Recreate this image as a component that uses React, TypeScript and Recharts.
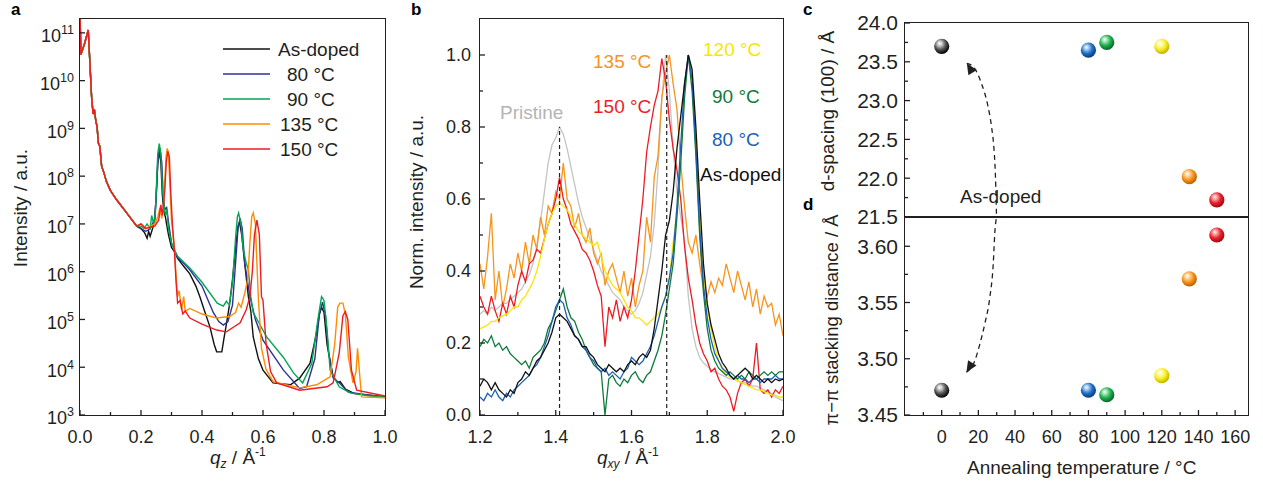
import React from 'react';
import { ComposedChart, Line, Scatter, XAxis, YAxis, ReferenceLine } from 'recharts';

const FONT = '"Liberation Sans", Arial, Helvetica, sans-serif';
const INK = '#231f20';

type Pt = [number, number];
type Side = 'bottom' | 'top' | 'left' | 'right';

// ---------- (a) intensity vs q_z, log scale ----------
const A_HEAD: Pt[] = [
  [0, 2.5e11], [0.003, 3.5e10], [0.015, 6e10], [0.027, 1.15e11], [0.033, 2e10], [0.038, 4.6e9],
  [0.043, 2e9], [0.047, 2.5e9], [0.052, 1.4e9], [0.056, 1.1e9], [0.06, 5e8], [0.065, 4.2e8],
  [0.071, 1.6e8], [0.078, 1.2e8], [0.087, 7.6e7], [0.1, 5e7], [0.12, 3.2e7], [0.153, 1.7e7], [0.186, 9e6],
];
const A_ASDOPED: Pt[] = [
  [0.2, 8e6], [0.212, 6.5e6], [0.22, 5e6], [0.225, 7e6], [0.23, 5.5e6], [0.238, 8e6], [0.245, 1.2e7],
  [0.25, 4e7], [0.255, 1.8e8], [0.26, 3.3e8], [0.265, 2e8], [0.27, 4e7], [0.275, 1.8e7], [0.28, 1.4e7],
  [0.285, 9e6], [0.29, 6e6], [0.3, 3.2e6], [0.31, 2.6e6], [0.32, 1.9e6], [0.34, 1.3e6], [0.36, 9e5],
  [0.38, 5e5], [0.393, 3e5], [0.41, 1.4e5], [0.426, 7e4], [0.44, 3e4], [0.448, 2.1e4], [0.465, 2.1e4],
  [0.472, 4e4], [0.48, 8e4], [0.49, 2e5], [0.5, 6.8e5], [0.51, 3e6], [0.518, 9e6], [0.523, 1.1e7],
  [0.53, 6e6], [0.54, 1.5e6], [0.552, 3e5], [0.56, 1.5e5], [0.568, 4.3e4], [0.585, 1.5e4], [0.6, 8.7e3],
  [0.633, 4.7e3], [0.69, 4.3e3], [0.72, 5.9e3], [0.754, 1.2e4], [0.775, 5e4], [0.785, 1.3e5], [0.792, 1.8e5],
  [0.8, 1.4e5], [0.81, 3e4], [0.83, 6.3e3], [0.845, 4.8e3], [0.853, 5e3], [0.87, 3.5e3], [0.9, 2.8e3],
  [0.95, 2.6e3], [1.0, 2.4e3],
];
const A_80: Pt[] = [
  [0.2, 8e6], [0.215, 7e6], [0.225, 7.5e6], [0.235, 9e6], [0.245, 1.3e7], [0.25, 4e7], [0.255, 2e8],
  [0.262, 3.8e8], [0.268, 2e8], [0.273, 4e7], [0.278, 2e7], [0.284, 2.2e7], [0.29, 1.1e7], [0.3, 4e6],
  [0.31, 2.8e6], [0.32, 2e6], [0.34, 1.5e6], [0.36, 1.1e6], [0.4, 5e5], [0.437, 1.4e5], [0.455, 9e4],
  [0.47, 7.6e4], [0.485, 9e4], [0.5, 2e5], [0.51, 1.5e6], [0.518, 8e6], [0.525, 1.3e7], [0.532, 8e6],
  [0.54, 1.5e6], [0.557, 3e5], [0.575, 1e5], [0.6, 3.7e4], [0.667, 8.7e3], [0.72, 3.6e3], [0.743, 3.9e3],
  [0.77, 1.5e4], [0.785, 1.3e5], [0.795, 2.3e5], [0.805, 1.2e5], [0.815, 2e4], [0.83, 6e3], [0.853, 4.5e3],
  [0.88, 3e3], [0.95, 2.6e3], [1.0, 2.4e3],
];
const A_90: Pt[] = [
  [0.2, 9e6], [0.21, 8e6], [0.22, 1e7], [0.23, 8e6], [0.235, 1.5e7], [0.242, 1e7], [0.247, 1.6e7],
  [0.25, 5e7], [0.255, 3e8], [0.26, 4.8e8], [0.265, 3e8], [0.27, 6e7], [0.275, 2.5e7], [0.28, 1.5e7],
  [0.285, 2e7], [0.29, 8e6], [0.3, 4e6], [0.31, 2.8e6], [0.32, 2.1e6], [0.36, 1.2e6], [0.4, 6e5],
  [0.45, 2.2e5], [0.47, 1.9e5], [0.48, 2.4e5], [0.49, 2e5], [0.5, 6e5], [0.51, 5e6], [0.516, 1.4e7],
  [0.52, 1.7e7], [0.528, 1e7], [0.535, 3e6], [0.545, 1.5e6], [0.552, 1.1e6], [0.56, 3e5], [0.568, 1.4e5],
  [0.612, 4.3e4], [0.667, 1.6e4], [0.7, 7.6e3], [0.73, 4.7e3], [0.76, 1.2e4], [0.78, 1e5], [0.792, 3e5],
  [0.8, 2.5e5], [0.81, 6e4], [0.82, 8.7e3], [0.85, 3.9e3], [0.885, 2.9e3], [0.95, 2.5e3], [1.0, 2.4e3],
];
const A_135: Pt[] = [
  [0.2, 1e7], [0.215, 8e6], [0.23, 9e6], [0.245, 1e7], [0.255, 1.4e7], [0.262, 2.2e7], [0.268, 1.3e7],
  [0.273, 2e7], [0.278, 8e7], [0.282, 2.5e8], [0.286, 3.8e8], [0.29, 3e8], [0.295, 6e7], [0.3, 1.2e7],
  [0.305, 6e6], [0.31, 3e6], [0.315, 8e5], [0.32, 3e5], [0.325, 4e5], [0.333, 1.6e5], [0.34, 3e5],
  [0.345, 1.5e5], [0.36, 1.7e5], [0.4, 1.3e5], [0.448, 1.07e5], [0.49, 1.15e5], [0.51, 1.4e5], [0.52, 2.2e5],
  [0.528, 1.8e5], [0.54, 3.5e5], [0.55, 7e5], [0.558, 5e6], [0.563, 1.4e7], [0.568, 1.7e7], [0.575, 1e7],
  [0.58, 1.5e6], [0.585, 2.6e5], [0.595, 2.5e4], [0.61, 9e3], [0.633, 5e3], [0.72, 3.7e3], [0.776, 4.3e3],
  [0.82, 6.3e3], [0.835, 3e4], [0.845, 1.8e5], [0.852, 2.2e5], [0.862, 2.2e5], [0.87, 1.3e5], [0.88, 1.6e4],
  [0.895, 4.7e3], [0.905, 8e3], [0.91, 2.5e4], [0.915, 1e4], [0.923, 2.4e3], [1.0, 2.3e3],
];
const A_150: Pt[] = [
  [0.2, 1e7], [0.215, 8e6], [0.23, 8.5e6], [0.245, 9e6], [0.258, 1.2e7], [0.265, 2.5e7], [0.27, 1.5e7],
  [0.278, 5e7], [0.283, 2e8], [0.288, 3.3e8], [0.293, 2.5e8], [0.298, 4e7], [0.303, 1e7], [0.31, 2.5e6],
  [0.315, 6e5], [0.32, 2.2e5], [0.328, 2.5e5], [0.337, 1.3e5], [0.345, 1.5e5], [0.36, 1.07e5], [0.4, 8e4],
  [0.448, 6e4], [0.48, 5.5e4], [0.525, 8.5e4], [0.545, 1.6e5], [0.557, 3e5], [0.565, 1e6], [0.572, 6e6],
  [0.58, 1.2e7], [0.588, 6e6], [0.595, 3e5], [0.6, 2.5e5], [0.61, 3.2e4], [0.625, 8e3], [0.645, 4.7e3],
  [0.72, 3.3e3], [0.81, 3.9e3], [0.83, 4.7e3], [0.85, 2e4], [0.862, 1.2e5], [0.87, 1.45e5], [0.878, 1e5],
  [0.89, 8.7e3], [0.907, 3.3e3], [1.0, 2.5e3],
];

const A_SERIES = [
  { name: 'As-doped', color: '#111111', pts: A_ASDOPED },
  { name: '80 °C', color: '#2e3192', pts: A_80 },
  { name: '90 °C', color: '#00a651', pts: A_90 },
  { name: '135 °C', color: '#ff8c00', pts: A_135 },
  { name: '150 °C', color: '#ed1c24', pts: A_150 },
];
const A_LEGEND_X = [278, 287, 287, 280, 280];

const A_X_TICKS = [0, 0.1, 0.2, 0.3, 0.4, 0.5, 0.6, 0.7, 0.8, 0.9, 1.0];
const A_X_MAJOR = [0, 0.2, 0.4, 0.6, 0.8, 1.0];
const A_Y_TICKS = [1e3, 1e4, 1e5, 1e6, 1e7, 1e8, 1e9, 1e10, 1e11];

// ---------- (b) normalised in-plane cuts ----------
const QXY = [
  1.2, 1.21, 1.22, 1.23, 1.24, 1.25, 1.26, 1.27, 1.28, 1.29,
  1.3, 1.31, 1.32, 1.33, 1.34, 1.35, 1.36, 1.37, 1.38, 1.39,
  1.4, 1.41, 1.42, 1.43, 1.44, 1.45, 1.46, 1.47, 1.48, 1.49,
  1.5, 1.51, 1.52, 1.53, 1.54, 1.55, 1.56, 1.57, 1.58, 1.59,
  1.6, 1.61, 1.62, 1.63, 1.64, 1.65, 1.66, 1.67, 1.68, 1.69,
  1.7, 1.71, 1.72, 1.73, 1.74, 1.75, 1.76, 1.77, 1.78, 1.79,
  1.8, 1.81, 1.82, 1.83, 1.84, 1.85, 1.86, 1.87, 1.88, 1.89,
  1.9, 1.91, 1.92, 1.93, 1.94, 1.95, 1.96, 1.97, 1.98, 1.99,
  2.0,
];
const B_PRISTINE = [
  0.28, 0.29, 0.28, 0.30, 0.29, 0.30, 0.31, 0.31, 0.32, 0.33,
  0.34, 0.35, 0.37, 0.39, 0.42, 0.47, 0.54, 0.62, 0.70, 0.75,
  0.77, 0.80, 0.78, 0.74, 0.69, 0.64, 0.59, 0.55, 0.52, 0.49,
  0.46, 0.43, 0.40, 0.38, 0.36, 0.34, 0.33, 0.32, 0.30, 0.29,
  0.28, 0.29, 0.31, 0.34, 0.39, 0.44, 0.53, 0.68, 0.88, 1.0,
  0.90, 0.74, 0.62, 0.55, 0.48, 0.33, 0.24, 0.19, 0.16, 0.145,
  0.135, 0.125, 0.12, 0.115, 0.11, 0.105, 0.10, 0.10, 0.095, 0.09,
  0.09, 0.085, 0.08, 0.08, 0.075, 0.07, 0.065, 0.06, 0.05, 0.045,
  0.04,
];
const B_135 = [
  0.42, 0.35, 0.44, 0.56, 0.32, 0.40, 0.30, 0.35, 0.42, 0.38,
  0.45, 0.40, 0.48, 0.42, 0.50, 0.46, 0.55, 0.50, 0.58, 0.56,
  0.62, 0.60, 0.70, 0.60, 0.58, 0.52, 0.56, 0.50, 0.48, 0.52,
  0.45, 0.42, 0.45, 0.36, 0.40, 0.42, 0.38, 0.34, 0.40, 0.33,
  0.38, 0.30, 0.36, 0.40, 0.55, 0.48, 0.66, 0.72, 0.88, 0.95,
  1.0, 0.92, 0.85, 0.70, 0.58, 0.48, 0.45, 0.50, 0.42, 0.35,
  0.33, 0.37, 0.34, 0.38, 0.36, 0.42, 0.38, 0.34, 0.40, 0.36,
  0.32, 0.37, 0.30, 0.35, 0.28, 0.33, 0.30, 0.31, 0.25, 0.28,
  0.22,
];
const B_150 = [
  0.33, 0.30, 0.28, 0.33, 0.29, 0.26, 0.31, 0.28, 0.33, 0.30,
  0.36, 0.40, 0.37, 0.42, 0.43, 0.46, 0.45, 0.49, 0.53, 0.56,
  0.60, 0.66, 0.60, 0.57, 0.53, 0.51, 0.49, 0.46, 0.45, 0.43,
  0.40, 0.36, 0.33, 0.19, 0.30, 0.27, 0.32, 0.26, 0.30, 0.27,
  0.32, 0.40, 0.50, 0.60, 0.73, 0.80, 0.86, 0.90, 0.99, 0.93,
  0.82, 0.74, 0.68, 0.60, 0.47, 0.38, 0.32, 0.25, 0.20, 0.17,
  0.15, 0.12, 0.13, 0.10, 0.08, 0.07, 0.05, 0.01, 0.06, 0.09,
  0.10, 0.08, 0.10, 0.20, 0.07, 0.06, 0.07, 0.05, 0.07, 0.06,
  0.08,
];
const B_120 = [
  0.24, 0.245, 0.25, 0.26, 0.26, 0.27, 0.275, 0.28, 0.29, 0.30,
  0.30, 0.32, 0.33, 0.35, 0.37, 0.40, 0.44, 0.49, 0.53, 0.56,
  0.58, 0.59, 0.58, 0.57, 0.55, 0.53, 0.51, 0.50, 0.49, 0.48,
  0.47, 0.48, 0.44, 0.40, 0.38, 0.36, 0.35, 0.34, 0.32, 0.30,
  0.29, 0.27, 0.27, 0.26, 0.25, 0.26, 0.27, 0.28, 0.30, 0.33,
  0.38, 0.48, 0.56, 0.72, 0.90, 1.0, 0.95, 0.78, 0.55, 0.39,
  0.30, 0.24, 0.19, 0.15, 0.125, 0.115, 0.105, 0.10, 0.095, 0.09,
  0.085, 0.08, 0.075, 0.07, 0.07, 0.065, 0.06, 0.055, 0.055, 0.05,
  0.05,
];
const B_90 = [
  0.19, 0.21, 0.20, 0.22, 0.19, 0.20, 0.18, 0.19, 0.17, 0.16,
  0.15, 0.14, 0.15, 0.13, 0.16, 0.17, 0.18, 0.20, 0.24, 0.26,
  0.29, 0.32, 0.35, 0.30, 0.27, 0.26, 0.23, 0.21, 0.18, 0.16,
  0.14, 0.13, 0.12, 0.00, 0.10, 0.11, 0.09, 0.08, 0.10, 0.09,
  0.11, 0.12, 0.10, 0.09, 0.11, 0.12, 0.15, 0.18, 0.22, 0.28,
  0.35, 0.42, 0.55, 0.70, 0.88, 1.0, 0.90, 0.72, 0.50, 0.34,
  0.24, 0.18, 0.15, 0.13, 0.12, 0.11, 0.12, 0.11, 0.10, 0.11,
  0.10, 0.12, 0.11, 0.10, 0.11, 0.12, 0.11, 0.12, 0.11, 0.12,
  0.12,
];
const B_80 = [
  0.05, 0.04, 0.06, 0.05, 0.07, 0.05, 0.04, 0.06, 0.05, 0.07,
  0.08, 0.09, 0.10, 0.11, 0.13, 0.14, 0.16, 0.19, 0.22, 0.26,
  0.30, 0.32, 0.31, 0.27, 0.25, 0.22, 0.21, 0.19, 0.18, 0.16,
  0.15, 0.13, 0.12, 0.13, 0.11, 0.12, 0.11, 0.10, 0.12, 0.13,
  0.16, 0.15, 0.14, 0.15, 0.17, 0.19, 0.22, 0.26, 0.30, 0.33,
  0.38, 0.45, 0.58, 0.75, 0.92, 1.0, 0.93, 0.74, 0.52, 0.36,
  0.27, 0.21, 0.17, 0.15, 0.13, 0.12, 0.11, 0.10, 0.11, 0.10,
  0.10, 0.09, 0.10, 0.10, 0.09, 0.10, 0.10, 0.10, 0.11, 0.10,
  0.10,
];
const B_ASDOPED = [
  0.08, 0.10, 0.09, 0.07, 0.09, 0.07, 0.06, 0.05, 0.07, 0.06,
  0.09, 0.10, 0.12, 0.11, 0.13, 0.15, 0.16, 0.18, 0.20, 0.23,
  0.27, 0.28, 0.27, 0.26, 0.24, 0.22, 0.21, 0.19, 0.19, 0.17,
  0.16, 0.14, 0.13, 0.12, 0.14, 0.13, 0.12, 0.13, 0.12, 0.14,
  0.15, 0.14, 0.16, 0.17, 0.16, 0.18, 0.24, 0.32, 0.40, 0.50,
  0.54, 0.62, 0.74, 0.83, 0.92, 1.0, 0.96, 0.80, 0.60, 0.42,
  0.31, 0.25, 0.21, 0.17, 0.145, 0.13, 0.11, 0.10, 0.11, 0.12,
  0.13, 0.12, 0.10, 0.11, 0.10, 0.09, 0.10, 0.09, 0.10, 0.095,
  0.10,
];

const B_SERIES = [
  { key: 'pristine', color: '#c4c4c4', vals: B_PRISTINE },
  { key: 't135', color: '#f7941d', vals: B_135 },
  { key: 't150', color: '#ed1c24', vals: B_150 },
  { key: 't120', color: '#f7e600', vals: B_120 },
  { key: 't90', color: '#0e7a3a', vals: B_90 },
  { key: 't80', color: '#1c5fb4', vals: B_80 },
  { key: 'asdoped', color: '#111111', vals: B_ASDOPED },
];
const B_PEAKS = [{ q: 1.41, top: 0.8 }, { q: 1.693, top: 1.0 }];
const B_LABELS = [
  { text: '135 °C', color: '#f7941d', x: 593, y: 68 },
  { text: '120 °C', color: '#f7e600', x: 703, y: 56 },
  { text: '150 °C', color: '#ed1c24', x: 593, y: 113 },
  { text: '90 °C', color: '#0e7a3a', x: 712, y: 103 },
  { text: '80 °C', color: '#1c5fb4', x: 712, y: 146 },
  { text: 'Pristine', color: '#b4b4b4', x: 500, y: 119 },
  { text: 'As-doped', color: '#111111', x: 700, y: 181 },
];

const B_X_TICKS = [1.2, 1.3, 1.4, 1.5, 1.6, 1.7, 1.8, 1.9, 2.0];
const B_X_MAJOR = [1.2, 1.4, 1.6, 1.8, 2.0];
const B_Y_TICKS = [0, 0.1, 0.2, 0.3, 0.4, 0.5, 0.6, 0.7, 0.8, 0.9, 1.0];
const B_Y_MAJOR = [0, 0.2, 0.4, 0.6, 0.8, 1.0];

// ---------- (c, d) vs annealing temperature ----------
const TEMPS = [0, 80, 90, 120, 135, 150];
const D_SPACING = [23.7, 23.65, 23.75, 23.7, 22.02, 21.72];
const PI_STACK = [3.472, 3.472, 3.468, 3.485, 3.571, 3.61];
const BALL_COLORS = [
  ['#555555', '#000000', '#d0d0d0'],
  ['#1f6fc6', '#0b3a78', '#a9d0f5'],
  ['#1cae4e', '#0a6428', '#a8e8bb'],
  ['#f8ee20', '#c2b000', '#fffbc0'],
  ['#f7941d', '#b86000', '#ffdcae'],
  ['#e8202a', '#980a12', '#ffaaaa'],
];
// dashed guide from "As-doped" label up into (c) and down into (d)
const GUIDE_C: Pt[] = [
  [13.7, 23.48], [17.1, 23.44], [21.7, 23.22], [25.3, 22.92], [27.2, 22.66],
  [28.4, 22.41], [29.1, 22.15], [29.5, 21.89], [29.9, 21.5],
];
const GUIDE_D: Pt[] = [
  [13.5, 3.488], [18.0, 3.498], [20.8, 3.513], [23.5, 3.531], [26.2, 3.554],
  [28.1, 3.584], [29.0, 3.613], [29.9, 3.626],
];

const CD_X_TICKS = [-10, 0, 10, 20, 30, 40, 50, 60, 70, 80, 90, 100, 110, 120, 130, 140, 150, 160];
const CD_X_MAJOR = [0, 20, 40, 60, 80, 100, 120, 140, 160];
const C_Y_TICKS = [21.5, 21.75, 22, 22.25, 22.5, 22.75, 23, 23.25, 23.5, 23.75, 24];
const C_Y_MAJOR = [21.5, 22, 22.5, 23, 23.5, 24];
const D_Y_TICKS = [3.45, 3.475, 3.5, 3.525, 3.55, 3.575, 3.6];
const D_Y_MAJOR = [3.45, 3.5, 3.55, 3.6];

// plot boxes (page px): left, top, right, bottom
const BOXES = [
  [80, 19, 385, 415],
  [480, 19, 783, 415],
  [905, 23, 1248, 217],
  [905, 217, 1248, 415],
];
const EDGE = 1.8;

const toXY = (pts: Pt[]) => pts.map(([x, y]) => ({ x, y }));

function tickFor(side: Side, major: number[] | null, label?: (v: number) => React.ReactNode, gap = 0, size = 18, yOff = 0) {
  return (p: any) => {
    const x = Number(p.x);
    const y = Number(p.y);
    const v = Number(p.payload?.value);
    const big = major == null || major.some((m) => Math.abs(m - v) < 1e-9);
    const len = big ? 5 : 3;
    let x2 = x;
    let y2 = y;
    if (side === 'bottom') y2 = y - len;
    if (side === 'top') y2 = y + len;
    if (side === 'left') x2 = x + len;
    if (side === 'right') x2 = x - len;
    return (
      <g>
        <line x1={x} y1={y} x2={x2} y2={y2} stroke={INK} strokeWidth={1.3} />
        {big && label && (
          <text
            x={side === 'left' ? x - gap : x}
            y={side === 'left' ? y + size * 0.35 + yOff : y + gap}
            textAnchor={side === 'left' ? 'end' : 'middle'}
            fontSize={size}
            fontFamily={FONT}
            fill={INK}
          >
            {label(v)}
          </text>
        )}
      </g>
    );
  };
}

const f0 = (v: number) => v.toFixed(0);
const f1 = (v: number) => v.toFixed(1);
const f2 = (v: number) => v.toFixed(2);
const logLabel = (v: number) => [
  <tspan key="b">10</tspan>,
  <tspan key="e" dy={-8} fontSize={12.5}>{Math.round(Math.log10(v))}</tspan>,
];

const axisCommon = { tickLine: false, axisLine: false, tickSize: 0, tickMargin: 0, interval: 0 as const, allowDataOverflow: true };

function ball(panel: string) {
  return (p: any) => {
    const { cx, cy, index } = p;
    const [base, dark, light] = BALL_COLORS[index];
    const id = `${panel}-ball-${index}`;
    return (
      <g>
        <defs>
          <radialGradient id={id} cx="0.42" cy="0.38" r="0.62" fx="0.36" fy="0.3">
            <stop offset="0" stopColor="#ffffff" />
            <stop offset="0.22" stopColor={light} />
            <stop offset="0.6" stopColor={base} />
            <stop offset="1" stopColor={dark} />
          </radialGradient>
        </defs>
        <circle cx={cx} cy={cy} r={7.6} fill={`url(#${id})`} />
      </g>
    );
  };
}

function arrowDot(angle: number) {
  return (p: any) => {
    const { cx, cy, index } = p;
    if (index !== 0) return <g key={`d${index}`} />;
    return (
      <polygon
        key="tip"
        points="0,0 -11,-5 -11,5"
        fill={INK}
        transform={`translate(${cx},${cy}) rotate(${angle})`}
      />
    );
  };
}

function PanelA() {
  return (
    <ComposedChart width={400} height={486} margin={{ top: 19, right: 15, bottom: 0, left: 0 }}>
      <XAxis xAxisId="b" dataKey="x" type="number" domain={[0, 1]} ticks={A_X_TICKS} height={71}
        tick={tickFor('bottom', A_X_MAJOR, f1, 28)} {...axisCommon} />
      <XAxis xAxisId="t" orientation="top" dataKey="x" type="number" domain={[0, 1]} ticks={A_X_TICKS} height={0}
        tick={tickFor('top', A_X_MAJOR)} {...axisCommon} />
      <YAxis yAxisId="l" dataKey="y" type="number" scale="log" domain={[1e3, 1.95e11]} ticks={A_Y_TICKS} width={80}
        tick={tickFor('left', null, logLabel, 6, 18, 3)} {...axisCommon} />
      <YAxis yAxisId="r" orientation="right" dataKey="y" type="number" scale="log" domain={[1e3, 1.95e11]}
        ticks={A_Y_TICKS} width={0} tick={tickFor('right', null)} {...axisCommon} />
      {A_SERIES.map((s) => (
        <Line key={s.name} xAxisId="b" yAxisId="l" data={toXY([...A_HEAD, ...s.pts])} dataKey="y" type="linear"
          stroke={s.color} strokeWidth={1.4} dot={false} isAnimationActive={false} />
      ))}
    </ComposedChart>
  );
}

function PanelB() {
  const rows = QXY.map((q, i) => {
    const r: Record<string, number> = { q };
    B_SERIES.forEach((s) => { r[s.key] = s.vals[i]; });
    return r;
  });
  return (
    <ComposedChart width={400} height={486} data={rows} margin={{ top: 19, right: 17, bottom: 0, left: 0 }}>
      <XAxis xAxisId="b" dataKey="q" type="number" domain={[1.2, 2.0]} ticks={B_X_TICKS} height={71}
        tick={tickFor('bottom', B_X_MAJOR, f1, 28)} {...axisCommon} />
      <XAxis xAxisId="t" orientation="top" dataKey="q" type="number" domain={[1.2, 2.0]} ticks={B_X_TICKS} height={0}
        tick={tickFor('top', B_X_MAJOR)} {...axisCommon} />
      <YAxis yAxisId="l" type="number" domain={[0, 1.1]} ticks={B_Y_TICKS} width={80}
        tick={tickFor('left', B_Y_MAJOR, f1, 9)} {...axisCommon} />
      <YAxis yAxisId="r" orientation="right" type="number" domain={[0, 1.1]} ticks={B_Y_TICKS} width={0}
        tick={tickFor('right', B_Y_MAJOR)} {...axisCommon} />
      {B_SERIES.map((s) => (
        <Line key={s.key} xAxisId="b" yAxisId="l" dataKey={s.key} type="linear" stroke={s.color}
          strokeWidth={1.3} dot={false} isAnimationActive={false} />
      ))}
      {B_PEAKS.map((p) => (
        <ReferenceLine key={p.q} xAxisId="b" yAxisId="l" segment={[{ x: p.q, y: 0 }, { x: p.q, y: p.top }]}
          stroke={INK} strokeWidth={1.2} strokeDasharray="4 3" />
      ))}
    </ComposedChart>
  );
}

function PanelC() {
  const pts = TEMPS.map((t, i) => ({ x: t, y: D_SPACING[i] }));
  return (
    <ComposedChart width={463} height={240} margin={{ top: 23, right: 15, bottom: 23, left: 0 }}>
      <XAxis xAxisId="b" dataKey="x" type="number" domain={[-20, 167]} ticks={CD_X_TICKS} height={0}
        tick={tickFor('bottom', CD_X_MAJOR)} {...axisCommon} />
      <XAxis xAxisId="t" orientation="top" dataKey="x" type="number" domain={[-20, 167]} ticks={CD_X_TICKS} height={0}
        tick={tickFor('top', CD_X_MAJOR)} {...axisCommon} />
      <YAxis yAxisId="l" dataKey="y" type="number" domain={[21.5, 24]} ticks={C_Y_TICKS} width={105}
        tick={tickFor('left', C_Y_MAJOR, f1, 7, 21)} {...axisCommon} />
      <YAxis yAxisId="r" orientation="right" dataKey="y" type="number" domain={[21.5, 24]} ticks={C_Y_TICKS} width={0}
        tick={tickFor('right', C_Y_MAJOR)} {...axisCommon} />
      <Line xAxisId="b" yAxisId="l" data={toXY(GUIDE_C)} dataKey="y" type="monotone" stroke={INK}
        strokeWidth={1.3} strokeDasharray="5 4" dot={arrowDot(-122)} isAnimationActive={false} />
      <Scatter xAxisId="b" yAxisId="l" data={pts} dataKey="y" shape={ball('c')} isAnimationActive={false} />
    </ComposedChart>
  );
}

function PanelD() {
  const pts = TEMPS.map((t, i) => ({ x: t, y: PI_STACK[i] }));
  return (
    <ComposedChart width={463} height={279} margin={{ top: 10, right: 15, bottom: 0, left: 0 }}>
      <XAxis xAxisId="b" dataKey="x" type="number" domain={[-20, 167]} ticks={CD_X_TICKS} height={71}
        tick={tickFor('bottom', CD_X_MAJOR, f0, 28)} {...axisCommon} />
      <XAxis xAxisId="t" orientation="top" dataKey="x" type="number" domain={[-20, 167]} ticks={CD_X_TICKS} height={0}
        tick={tickFor('top', CD_X_MAJOR)} {...axisCommon} />
      <YAxis yAxisId="l" dataKey="y" type="number" domain={[3.45, 3.626]} ticks={D_Y_TICKS} width={105}
        tick={tickFor('left', D_Y_MAJOR, f2, 7, 21)} {...axisCommon} />
      <YAxis yAxisId="r" orientation="right" dataKey="y" type="number" domain={[3.45, 3.626]} ticks={D_Y_TICKS} width={0}
        tick={tickFor('right', D_Y_MAJOR)} {...axisCommon} />
      <Line xAxisId="b" yAxisId="l" data={toXY(GUIDE_D)} dataKey="y" type="monotone" stroke={INK}
        strokeWidth={1.3} strokeDasharray="5 4" dot={arrowDot(122)} isAnimationActive={false} />
      <Scatter xAxisId="b" yAxisId="l" data={pts} dataKey="y" shape={ball('d')} isAnimationActive={false} />
    </ComposedChart>
  );
}

function Frames() {
  return (
    <>
      {BOXES.map(([l, tp, r, b], i) => (
        <div
          key={i}
          style={{
            position: 'absolute',
            left: l - EDGE / 2,
            top: tp - EDGE / 2,
            width: r - l + EDGE,
            height: b - tp + EDGE,
            border: `${EDGE}px solid ${INK}`,
            boxSizing: 'border-box',
            pointerEvents: 'none',
          }}
        />
      ))}
    </>
  );
}

function Overlay() {
  const t = { fontFamily: FONT, fill: INK, fontSize: 19 };
  const letter = { fontFamily: FONT, fill: '#000', fontSize: 17, fontWeight: 700 };
  return (
    <svg width={1263} height={486} style={{ position: 'absolute', left: 0, top: 0, pointerEvents: 'none' }}>
      <text x={11} y={15} {...letter}>a</text>
      <text x={411} y={15} {...letter}>b</text>
      <text x={803} y={15} {...letter}>c</text>
      <text x={803} y={210} {...letter}>d</text>

      {A_SERIES.map((s, i) => (
        <g key={s.name}>
          <line x1={223} x2={270} y1={49 + i * 25} y2={49 + i * 25} stroke={s.color} strokeWidth={1.6} />
          <text x={A_LEGEND_X[i]} y={56 + i * 25} {...t}>{s.name}</text>
        </g>
      ))}
      {B_LABELS.map((l) => (
        <text key={l.text} x={l.x} y={l.y} {...t} fill={l.color}>{l.text}</text>
      ))}
      <text x={960} y={203} {...t}>As-doped</text>

      <text transform="translate(27,208) rotate(-90)" textAnchor="middle" {...t}>Intensity / a.u.</text>
      <text transform="translate(423,202) rotate(-90)" textAnchor="middle" {...t}>Norm. intensity / a.u.</text>
      <text transform="translate(834,111) rotate(-90)" textAnchor="middle" {...t}>d-spacing (100) / Å</text>
      <text transform="translate(838,320) rotate(-90)" textAnchor="middle" {...t} fontSize={18.5}>π−π stacking distance / Å</text>

      <text x={210} y={464} {...t}>
        <tspan fontStyle="italic">q</tspan>
        <tspan fontStyle="italic" fontSize={12} dy={4}>z</tspan>
        <tspan dy={-4}> / Å</tspan>
        <tspan fontSize={12} dy={-8}>-1</tspan>
      </text>
      <text x={597} y={464} {...t}>
        <tspan fontStyle="italic">q</tspan>
        <tspan fontStyle="italic" fontSize={12} dy={4}>xy</tspan>
        <tspan dy={-4}> / Å</tspan>
        <tspan fontSize={12} dy={-8}>-1</tspan>
      </text>
      <text x={967} y={474} {...t}>Annealing temperature / °C</text>
    </svg>
  );
}

export default function App() {
  return (
    <div style={{ position: 'absolute', left: 0, top: 0, width: 1263, height: 486, background: '#fff', overflow: 'hidden' }}>
      <div style={{ position: 'absolute', left: 0, top: 0 }}><PanelA /></div>
      <div style={{ position: 'absolute', left: 400, top: 0 }}><PanelB /></div>
      <div style={{ position: 'absolute', left: 800, top: 0 }}><PanelC /></div>
      <div style={{ position: 'absolute', left: 800, top: 207 }}><PanelD /></div>
      <Frames />
      <Overlay />
    </div>
  );
}
